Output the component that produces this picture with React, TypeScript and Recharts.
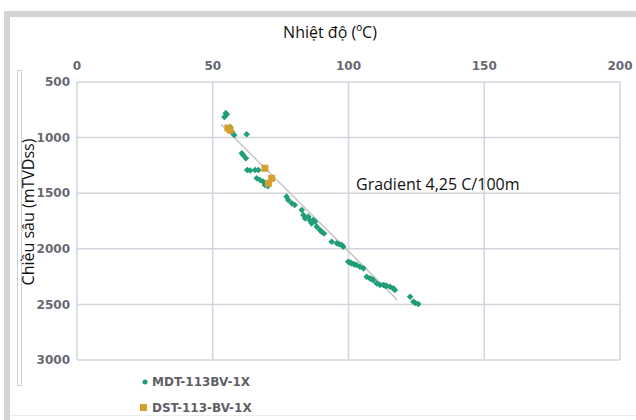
import { ScatterChart, Scatter, XAxis, YAxis, CartesianGrid } from "recharts";

// Temperature (°C) vs depth (mTVDss)
const mdtTemp = [54.3, 54.8, 55.2, 56.4, 57.0, 57.9, 62.5, 60.7, 61.2, 62.2, 62.7, 63.8, 65.6, 66.8, 66.2, 67.4, 68.6, 69.2, 70.3, 77.2, 77.8, 79.1, 80.2, 82.8, 83.4, 84.0, 85.2, 85.8, 87.0, 87.7, 86.4, 88.3, 89.5, 90.1, 91.0, 93.8, 95.7, 96.6, 97.5, 98.1, 99.9, 100.6, 101.2, 102.1, 103.0, 104.2, 105.5, 106.7, 107.9, 108.6, 109.1, 110.4, 111.6, 112.8, 113.5, 114.1, 115.3, 116.5, 117.1, 122.7, 123.9, 124.6, 125.7];
const mdtDepth = [815, 780, 790, 905, 947, 977, 970, 1141, 1156, 1186, 1291, 1296, 1291, 1291, 1366, 1381, 1396, 1426, 1436, 1531, 1561, 1591, 1606, 1651, 1696, 1726, 1711, 1745, 1741, 1756, 1771, 1801, 1831, 1846, 1862, 1936, 1951, 1958, 1966, 1981, 2116, 2124, 2131, 2140, 2146, 2161, 2176, 2251, 2266, 2274, 2281, 2311, 2326, 2326, 2331, 2335, 2341, 2356, 2371, 2431, 2476, 2488, 2496];

const dstTemp = [55.6, 56.4, 69.2, 71.7, 70.5];
const dstDepth = [914, 932, 1276, 1366, 1411];

const trendTemp = [53, 118];
const trendDepth = [880, 2460];

const xTicks = [0, 50, 100, 150, 200];
const yTicks = [500, 1000, 1500, 2000, 2500, 3000];

const mdt = mdtTemp.map((t, i) => ({ t, d: mdtDepth[i] }));
const dst = dstTemp.map((t, i) => ({ t, d: dstDepth[i] }));
const trend = trendTemp.map((t, i) => ({ t, d: trendDepth[i] }));

const GREEN = "#1f9e78";
const ORANGE = "#d6a02e";

const Diamond = (p: any) => (
  <polygon
    points={`${p.cx},${p.cy - 3.3} ${p.cx + 3.3},${p.cy} ${p.cx},${p.cy + 3.3} ${p.cx - 3.3},${p.cy}`}
    fill={GREEN}
  />
);
const Square = (p: any) => <rect x={p.cx - 3.5} y={p.cy - 3.5} width={7} height={7} fill={ORANGE} />;
const NoDot = () => <g />;

const tickStyle = { fontSize: 12, fontWeight: 700, fill: "#686872", fontFamily: "DejaVu Sans" };

export default function App() {
  return (
    <div style={{ position: "absolute", left: 0, top: 0, width: 636, height: 420, background: "#fff", overflow: "hidden", fontFamily: "'Open Sans', sans-serif" }}>
      {/* frame decorations */}
      <div style={{ position: "absolute", left: 4, top: 11, width: 632, height: 6, background: "#d4d4d4" }} />
      <div style={{ position: "absolute", left: 4, top: 11, width: 6, height: 409, background: "#d4d4d4" }} />
      <div style={{ position: "absolute", left: 17, top: 70, width: 3, height: 314, border: "1px solid #d0d0d0" }} />
      <div style={{ position: "absolute", left: 10, top: 415, width: 626, height: 1, background: "#ececec" }} />

      <div style={{ position: "absolute", left: 0, top: 0 }}>
        <ScatterChart width={636} height={420} margin={{ top: 62, right: 16, bottom: 60, left: 17 }}>
          <CartesianGrid stroke="#d3d4de" strokeWidth={1.5} />
          <XAxis
            dataKey="t"
            type="number"
            orientation="top"
            domain={[0, 200]}
            ticks={xTicks}
            height={20}
            axisLine={false}
            tickLine={false}
            tickSize={10}
            tickMargin={2}
            tick={tickStyle}
          />
          <YAxis
            dataKey="d"
            type="number"
            reversed
            domain={[500, 3000]}
            ticks={yTicks}
            width={60}
            axisLine={false}
            tickLine={false}
            tickSize={6}
            tickMargin={1}
            tick={tickStyle}
          />
          <Scatter data={trend} line={{ stroke: "#c4c4c4", strokeWidth: 1.5 }} shape={NoDot} legendType="none" isAnimationActive={false} />
          <Scatter name="MDT-113BV-1X" data={mdt} shape={Diamond} isAnimationActive={false} />
          <Scatter name="DST-113-BV-1X" data={dst} shape={Square} isAnimationActive={false} />
        </ScatterChart>
      </div>

      {/* legend */}
      <div style={{ position: "absolute", left: 140, top: 369, fontFamily: "DejaVu Sans", fontSize: 12, fontWeight: 700, color: "#5f5f66", lineHeight: "26px" }}>
        <div style={{ display: "flex", alignItems: "center" }}>
          <svg width={10} height={10}><circle cx={5} cy={5} r={2.5} fill={GREEN} /></svg>
          <span style={{ marginLeft: 2 }}>MDT-113BV-1X</span>
        </div>
        <div style={{ display: "flex", alignItems: "center" }}>
          <svg width={10} height={10}><rect x={0} y={1} width={7} height={7} fill={ORANGE} /></svg>
          <span style={{ marginLeft: 2 }}>DST-113-BV-1X</span>
        </div>
      </div>

      <div style={{ position: "absolute", left: 230, width: 200, top: 21, textAlign: "center", fontSize: 16, color: "#111", whiteSpace: "nowrap" }}>
        Nhiệt độ (ºC)
      </div>
      <div
        style={{
          position: "absolute",
          left: 28,
          top: 212,
          transform: "translate(-50%, -50%) rotate(-90deg)",
          fontSize: 16,
          color: "#111",
          whiteSpace: "nowrap",
        }}
      >
        Chiều sâu (mTVDss)
      </div>
      <div style={{ position: "absolute", left: 356, top: 173, fontSize: 16, color: "#111", whiteSpace: "nowrap" }}>
        Gradient 4,25 C/100m
      </div>
    </div>
  );
}
